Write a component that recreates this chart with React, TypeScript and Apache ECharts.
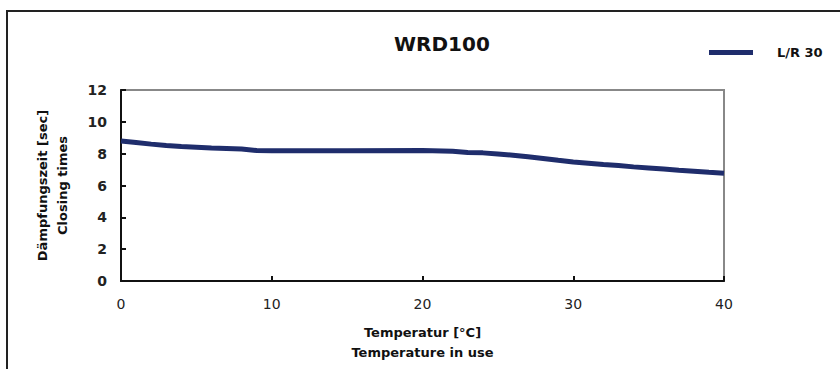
import React, { useEffect, useRef } from "react";
import * as echarts from "echarts";

const temperatures = [0, 1, 2, 3, 4, 5, 6, 7, 8, 9, 10, 15, 20, 22, 23, 24, 25, 26, 27, 28, 29, 30, 31, 32, 33, 34, 35, 36, 37, 38, 39, 40];
const closingTimes = [8.8, 8.7, 8.6, 8.52, 8.45, 8.4, 8.35, 8.33, 8.3, 8.2, 8.18, 8.18, 8.2, 8.15, 8.08, 8.05, 7.98, 7.9, 7.8, 7.7, 7.58, 7.47, 7.4, 7.32, 7.25, 7.17, 7.1, 7.03, 6.96, 6.9, 6.83, 6.77];
const seriesName = "L/R 30";
const chartTitle = "WRD100";
const xAxisName = "Temperatur [°C]\nTemperature in use";
const yAxisName = "Dämpfungszeit [sec]\nClosing times";

const FONT = "DejaVu Sans";

export default function App() {
  const ref = useRef<HTMLDivElement>(null);
  useEffect(() => {
    document.body.style.margin = "0";
    const chart = echarts.init(ref.current!, null, { renderer: "svg" });
    chart.setOption({
      animation: false,
      backgroundColor: "#ffffff",
      textStyle: { fontFamily: FONT },
      title: {
        text: chartTitle,
        left: 394,
        top: 34,
        padding: 0,
        textStyle: { fontFamily: FONT, fontSize: 20, fontWeight: "bold", color: "#111" },
      },
      legend: {
        left: 709,
        top: 46,
        padding: 0,
        icon: "rect",
        itemWidth: 44,
        itemHeight: 5,
        data: [seriesName],
        textStyle: { fontFamily: FONT, fontSize: 13, fontWeight: "bold", color: "#111", padding: [0, 0, 0, 19] },
      },
      graphic: [
        {
          type: "rect",
          shape: { x: 7, y: 11, width: 1000, height: 1000 },
          style: { fill: "none", stroke: "#222", lineWidth: 2 },
          silent: true,
        },
      ],
      grid: {
        left: 121,
        top: 90,
        right: 116,
        bottom: 88,
        show: true,
        borderColor: "#888",
        borderWidth: 2,
        containLabel: false,
      },
      xAxis: {
        type: "value",
        min: 0,
        max: 40,
        interval: 10,
        name: xAxisName,
        nameLocation: "middle",
        nameGap: 41,
        nameTextStyle: { fontFamily: FONT, fontSize: 13, fontWeight: "bold", color: "#111", lineHeight: 20 },
        axisLine: { show: true, lineStyle: { color: "#111", width: 2 } },
        axisTick: { show: true, inside: true, length: 5, lineStyle: { color: "#111", width: 2 } },
        axisLabel: { fontFamily: FONT, fontSize: 14, color: "#222", margin: 16 },
        splitLine: { show: false },
      },
      yAxis: {
        type: "value",
        min: 0,
        max: 12,
        interval: 2,
        name: yAxisName,
        nameLocation: "middle",
        nameGap: 49,
        nameRotate: 90,
        nameTextStyle: { fontFamily: FONT, fontSize: 13, fontWeight: "bold", color: "#111", lineHeight: 20 },
        axisLine: { show: true, lineStyle: { color: "#111", width: 2 } },
        axisTick: { show: true, inside: true, length: 5, lineStyle: { color: "#111", width: 2 } },
        axisLabel: { fontFamily: FONT, fontSize: 14, fontWeight: "bold", color: "#222", margin: 14 },
        splitLine: { show: false },
      },
      series: [
        {
          name: seriesName,
          type: "line",
          data: temperatures.map((t, i) => [t, closingTimes[i]]),
          showSymbol: false,
          symbol: "none",
          smooth: false,
          lineStyle: { color: "#1f2d6c", width: 5 },
          itemStyle: { color: "#1f2d6c" },
        },
      ],
    });
    return () => chart.dispose();
  }, []);
  return <div ref={ref} style={{ width: 840, height: 369 }} />;
}
